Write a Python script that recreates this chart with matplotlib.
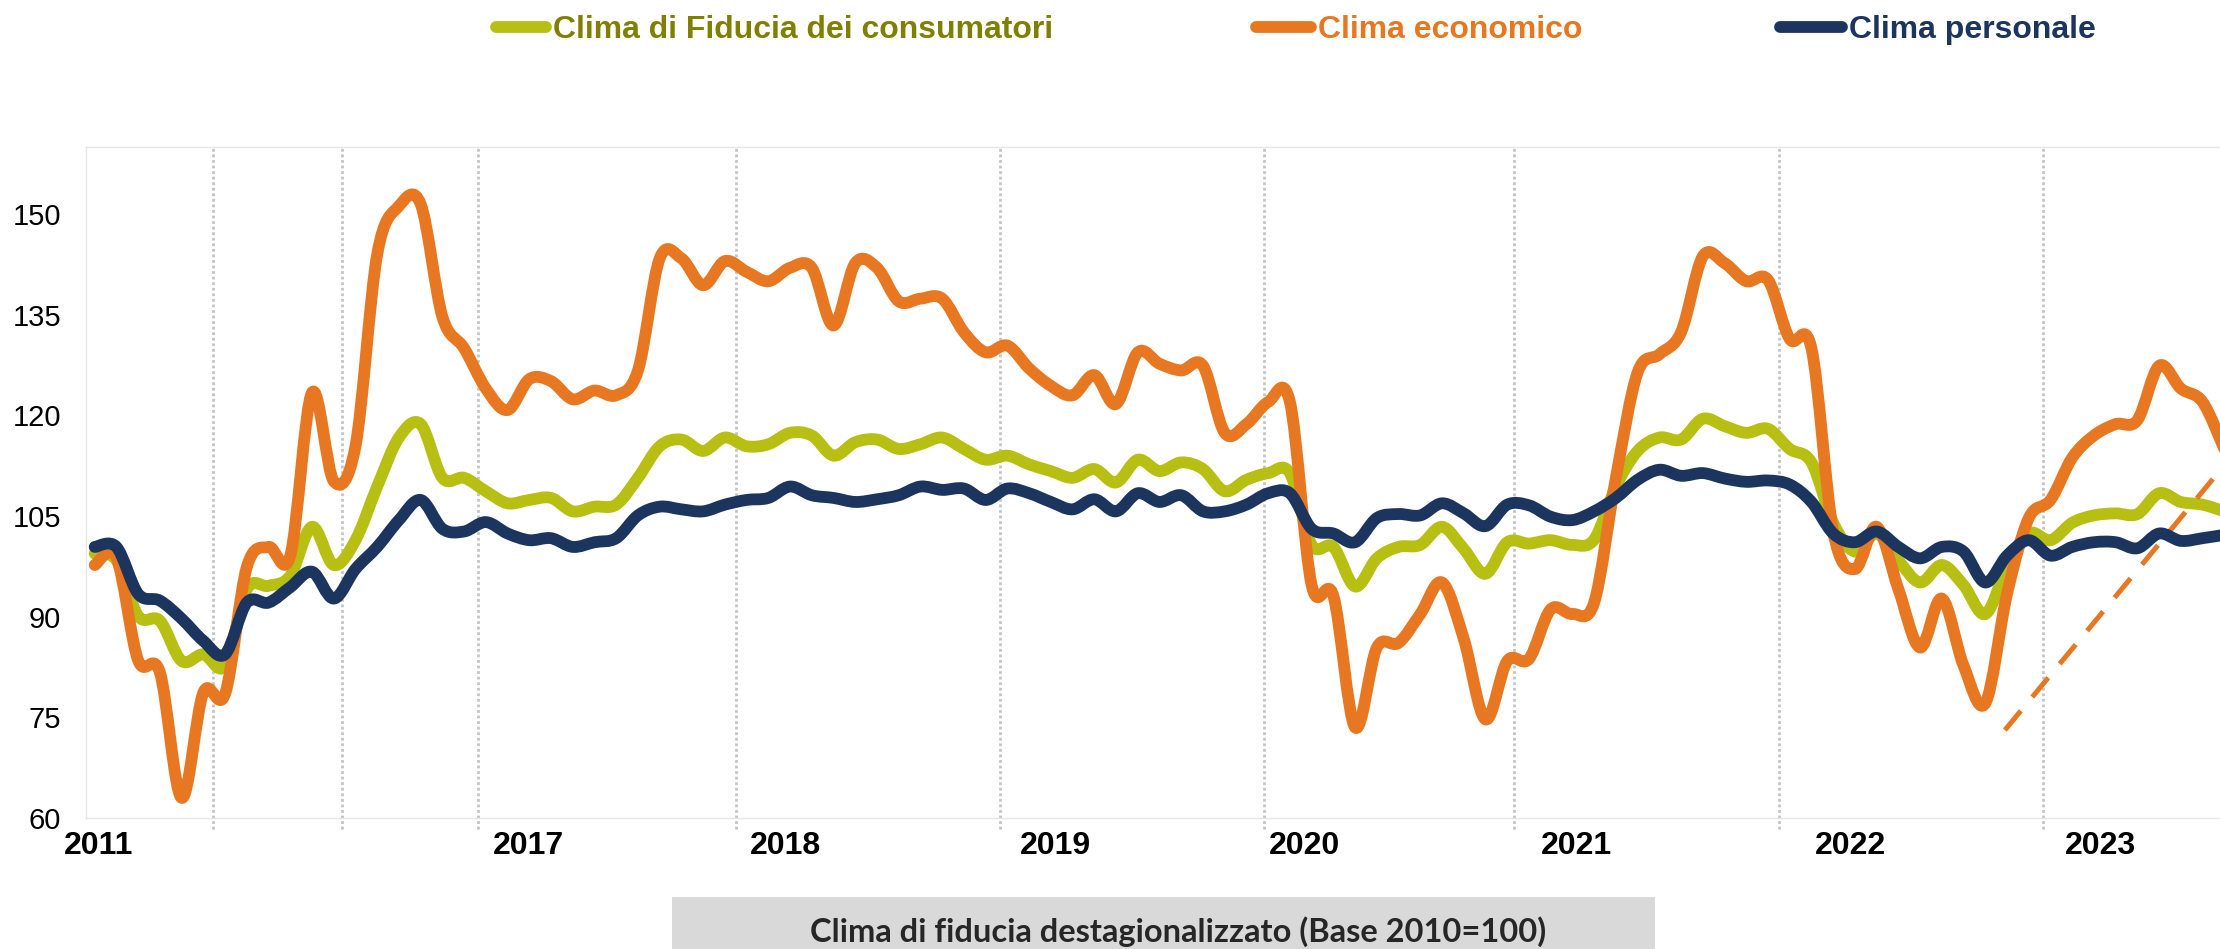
import matplotlib
matplotlib.use("Agg")
import matplotlib.pyplot as plt
from matplotlib.lines import Line2D
from matplotlib.patches import Rectangle, PathPatch
from matplotlib.path import Path
import numpy as np

# monthly series
clima_fiducia = [
    99.4, 98.4, 90.1, 89.4, 83.4, 84.4, 82.7, 94.1, 94.6, 96.1,
    103.4, 97.7, 101.4, 109.4, 116.7, 118.7, 110.7, 110.7, 108.7, 106.9,
    107.4, 107.7, 105.7, 106.4, 106.7, 110.7, 115.4, 116.4, 114.7, 116.7,
    115.4, 115.7, 117.4, 117.0, 114.0, 116.0, 116.4, 115.0, 115.7, 116.7,
    115.0, 113.4, 114.0, 112.7, 111.7, 110.7, 112.0, 110.0, 113.4, 111.7,
    113.0, 112.0, 108.7, 110.4, 111.4, 111.4, 100.7, 100.4, 94.5, 98.7,
    100.4, 100.7, 103.4, 100.1, 96.4, 101.1, 100.9, 101.4, 100.7, 101.5,
    109.4, 114.7, 116.7, 116.4, 119.5, 118.4, 117.4, 118.0, 115.0, 113.0,
    104.0, 99.7, 102.4, 98.4, 95.1, 97.7, 94.7, 90.4, 97.4, 102.4,
    101.4, 104.0, 105.1, 105.4, 105.3, 108.4, 107.1, 106.7, 105.7]

clima_economico = [
    97.7, 98.8, 83.5, 81.7, 63.0, 78.7, 78.5, 97.4, 100.4, 99.1,
    123.4, 110.2, 115.4, 144.0, 151.2, 151.5, 134.7, 130.0, 124.0, 120.8,
    125.4, 125.1, 122.4, 123.7, 123.0, 126.7, 143.4, 143.4, 139.4, 143.0,
    141.4, 140.0, 142.0, 142.0, 133.4, 142.7, 142.0, 137.0, 137.4, 137.4,
    132.4, 129.4, 130.4, 127.0, 124.4, 123.0, 126.0, 121.7, 129.4, 127.7,
    126.7, 127.4, 117.4, 118.7, 122.0, 122.0, 94.7, 93.1, 73.5, 85.4,
    86.1, 90.4, 95.1, 86.7, 74.7, 83.4, 83.7, 91.1, 90.4, 92.1,
    110.7, 126.4, 129.1, 132.4, 143.7, 142.7, 140.0, 140.2, 131.4, 130.0,
    102.7, 97.1, 103.4, 94.1, 85.4, 92.7, 82.7, 77.1, 93.4, 104.7,
    107.4, 113.7, 117.0, 118.7, 119.3, 127.4, 124.0, 122.0, 115.0]

clima_personale = [
    100.4, 100.4, 93.4, 92.4, 89.7, 86.4, 84.4, 92.1, 92.1, 94.4,
    96.7, 92.7, 97.1, 100.4, 104.4, 107.4, 103.1, 102.7, 104.1, 102.4,
    101.4, 101.7, 100.4, 101.1, 101.7, 105.1, 106.4, 106.0, 105.7, 106.7,
    107.4, 107.7, 109.4, 108.1, 107.7, 107.1, 107.5, 108.1, 109.4, 108.9,
    109.1, 107.4, 109.1, 108.4, 107.1, 106.0, 107.5, 105.7, 108.4, 107.1,
    108.1, 105.7, 105.7, 106.7, 108.4, 108.4, 103.1, 102.4, 101.1, 104.7,
    105.3, 105.1, 106.9, 105.4, 103.5, 106.7, 106.6, 104.9, 104.4, 105.7,
    107.7, 110.4, 111.9, 111.0, 111.4, 110.6, 110.1, 110.3, 109.7, 107.1,
    102.4, 101.1, 102.7, 100.4, 98.7, 100.4, 99.7, 95.1, 99.1, 101.4,
    99.1, 100.4, 101.1, 101.1, 100.2, 102.4, 101.3, 101.7, 102.2]

months = np.arange(len(clima_fiducia))

# dashed trend segment on the economic climate
trend_x = [87.9, 99.0]
trend_y = [73.1, 116.5]

year_labels = ["2011", "2017", "2018", "2019", "2020", "2021", "2022", "2023"]
year_label_pos = [0.2, 19.95, 31.8, 44.2, 55.65, 68.2, 80.8, 92.3]
year_lines = [5.45, 11.4, 17.65, 29.5, 41.65, 53.8, 65.3, 77.5, 89.65]
y_ticks = [60, 75, 90, 105, 120, 135, 150]

LIME = "#B7BF12"
ORANGE = "#E87722"
NAVY = "#1C355E"


def smooth_path(x, y):
    # Excel-like smoothed line: Bezier segments through every point
    p = np.column_stack([x, y]).astype(float)
    verts = [p[0]]
    codes = [Path.MOVETO]
    n = len(p)
    for i in range(n - 1):
        prev = p[i - 1] if i > 0 else p[i]
        nxt = p[i + 2] if i + 2 < n else p[i + 1]
        c1 = p[i] + (p[i + 1] - prev) / 6
        c2 = p[i + 1] - (nxt - p[i]) / 6
        verts += [c1, c2, p[i + 1]]
        codes += [Path.CURVE4] * 3
    return Path(verts, codes)


W, H = 2220, 949
fig = plt.figure(figsize=(W / 100, H / 100), dpi=100)
ax = fig.add_axes([86 / W, 1 - 818 / H, 1 - 86 / W, (818 - 147) / H])

for xv in year_lines:
    ax.axvline(xv, ymin=-0.017, ymax=1, color="#c4c4c4", lw=2,
               ls=(0, (1, 1)), clip_on=False, zorder=1)

series = [(clima_fiducia, LIME, 2), (clima_economico, ORANGE, 3),
          (clima_personale, NAVY, 4)]
for values, color, z in series:
    ax.add_patch(PathPatch(smooth_path(months, values), fill=False,
                           edgecolor=color, lw=8.5, joinstyle="round",
                           capstyle="round", zorder=z))
ax.plot(trend_x, trend_y, color=ORANGE, lw=3.6, ls=(0, (5, 3.6)), zorder=3)

ax.set_xlim(-0.4, 97.8)
ax.set_ylim(60, 160)
ax.set_yticks(y_ticks)
ax.set_yticklabels([str(v) for v in y_ticks], fontsize=21,
                   family="Liberation Sans")
ax.set_xticks(year_label_pos)
ax.set_xticklabels(year_labels, fontsize=23, fontweight="bold",
                   family="Liberation Sans")
ax.tick_params(axis="y", length=0, pad=18)
ax.tick_params(axis="x", length=0, pad=9)
for side in ["left", "top", "bottom"]:
    ax.spines[side].set_color("#e6e6e6")
    ax.spines[side].set_linewidth(1)
ax.spines["right"].set_visible(False)

# legend drawn along the top
legend_items = [
    ("Clima di Fiducia dei consumatori", LIME, "#808000", 496, 546, 553),
    ("Clima economico", ORANGE, ORANGE, 1256, 1311, 1318),
    ("Clima personale", NAVY, NAVY, 1780, 1842, 1849),
]
for label, c, tc, x0, x1, xt in legend_items:
    fig.add_artist(Line2D([x0 / W, x1 / W], [1 - 27 / H, 1 - 27 / H],
                          color=c, lw=8.5, solid_capstyle="round"))
    fig.text(xt / W, 1 - 38 / H, label, color=tc, fontsize=23,
             fontweight="bold", family="Liberation Sans", va="baseline")

# caption box at the bottom
fig.add_artist(Rectangle((672 / W, 0), (1655 - 672) / W, (949 - 897) / H,
                         transform=fig.transFigure, color="#D9D9D9", lw=0))
fig.text(1178 / W, 1 - 932 / H,
         "Clima di fiducia destagionalizzato (Base 2010=100)",
         fontsize=23.5, fontweight="bold", family="Lato", color="#262626",
         ha="center", va="center")

fig.savefig("out.png", dpi=100)
